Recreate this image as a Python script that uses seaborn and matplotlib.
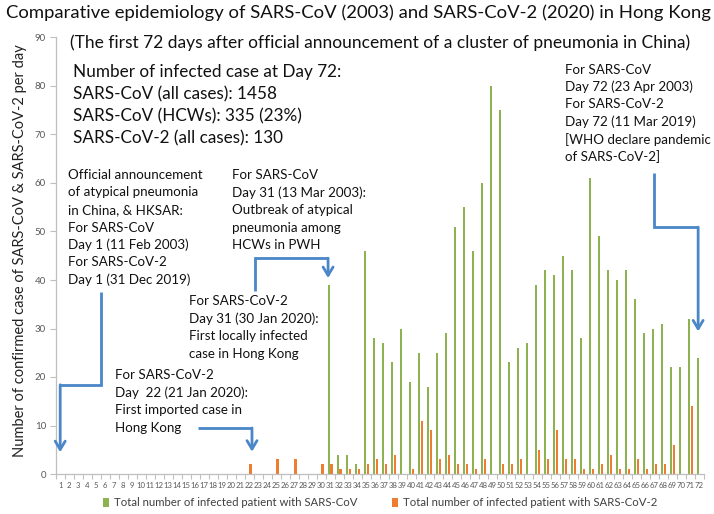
import matplotlib
matplotlib.use("Agg")
import matplotlib.pyplot as plt
import seaborn as sns
import pandas as pd

# ---------------- data ----------------
days = [str(d) for d in range(1, 73)]
sars_cov = [0, 0, 0, 0, 0, 0, 0, 0, 0, 0,
            0, 0, 0, 0, 0, 0, 0, 0, 0, 0,
            0, 0, 0, 0, 0, 0, 0, 0, 0, 0,
            39, 4, 4, 2, 46, 28, 27, 23, 30, 19,
            25, 18, 25, 29, 51, 55, 46, 60, 80, 75,
            23, 26, 27, 39, 42, 41, 45, 42, 28, 61,
            49, 42, 40, 42, 36, 29, 30, 31, 22, 22,
            32, 24]
sars_cov2 = [0, 0, 0, 0, 0, 0, 0, 0, 0, 0,
             0, 0, 0, 0, 0, 0, 0, 0, 0, 0,
             0, 2, 0, 0, 3, 0, 3, 0, 0, 2,
             2, 1, 1, 1, 2, 3, 2, 4, 0, 1,
             11, 9, 3, 4, 2, 2, 1, 3, 0, 2,
             2, 3, 0, 5, 3, 9, 3, 3, 1, 1,
             2, 4, 1, 1, 3, 1, 2, 2, 6, 0,
             14, 0]
series_names = ["Total number of infected patient with SARS-CoV",
                "Total number of infected patient with SARS-CoV-2"]
colors = ["#8db350", "#ed7d31"]
y_ticks = [0, 10, 20, 30, 40, 50, 60, 70, 80, 90]

df = pd.DataFrame({
    "day": days * 2,
    "cases": sars_cov + sars_cov2,
    "series": [series_names[0]] * len(days) + [series_names[1]] * len(days),
})

# ---------------- style ----------------
sns.set_theme(style="white")
plt.rcParams["font.family"] = ["Lato", "DejaVu Sans"]

W, H = 714, 514
fig = plt.figure(figsize=(W / 100, H / 100), dpi=100)
ax = fig.add_axes([55.7 / W, 40 / H, (704 - 55.7) / W, (474 - 37.5) / H])

sns.barplot(data=df, x="day", y="cases", hue="series", order=days,
            hue_order=series_names, palette=colors, width=0.62, gap=0.12,
            saturation=1, ax=ax, linewidth=0, errorbar=None)

ax.set_xlim(-0.5, len(days) - 0.5)
ax.set_ylim(0, 90)
ax.set_yticks(y_ticks)
ax.set_xlabel("")
ax.set_ylabel("")
for s in ["top", "right"]:
    ax.spines[s].set_visible(False)
for s in ["left", "bottom"]:
    ax.spines[s].set_color("#bfbfbf")
    ax.spines[s].set_linewidth(0.9)
ax.tick_params(axis="y", labelsize=7, colors="#595959", length=4, width=0.8,
               direction="out", left=True, pad=3)
ax.tick_params(axis="y", color="#bfbfbf")
ax.tick_params(axis="x", which="major", length=0, labelsize=5.6,
               labelcolor="#595959", pad=6)
ax.set_xticks([i - 0.5 for i in range(len(days) + 1)], minor=True)
ax.tick_params(axis="x", which="minor", length=3.5, color="#bfbfbf", width=0.8,
               direction="out", bottom=True)
ax.grid(False)

# legend
handles, labels = ax.get_legend_handles_labels()
ax.get_legend().remove()
fig.legend(handles, labels, loc="center", bbox_to_anchor=(380 / W, 1 - 503 / H),
           ncol=2, frameon=False, fontsize=8.2, handlelength=0.6, handleheight=0.75,
           handletextpad=0.4, columnspacing=3.0, labelcolor="#404040")

# ---------------- texts ----------------
def fx(x):
    return x / W

def fy(y):
    return 1 - y / H

fig.text(fx(358), fy(13), "Comparative epidemiology of SARS-CoV (2003) and SARS-CoV-2 (2020) in Hong Kong",
         ha="center", va="center", fontsize=13.3, color="#111111")
fig.text(fx(380), fy(43), "(The first 72 days after official announcement of a cluster of pneumonia in China)",
         ha="center", va="center", fontsize=12.5, color="#111111")
fig.text(fx(20), fy(251), "Number of confirmed case of SARS-CoV & SARS-CoV-2 per day",
         rotation=90, ha="center", va="center", fontsize=10.5, color="#222222")


def block(x, y0, dy, lines, size):
    for i, line in enumerate(lines):
        fig.text(fx(x), fy(y0 + i * dy), line, ha="left", va="center",
                 fontsize=size, color="#111111")


block(73, 72, 22.2, ["Number of infected case at Day 72:",
                     "SARS-CoV (all cases): 1458",
                     "SARS-CoV (HCWs): 335 (23%)",
                     "SARS-CoV-2 (all cases): 130"], 12.3)
block(68, 175, 17.5, ["Official announcement", "of atypical pneumonia",
                      "in China, & HKSAR:", "For SARS-CoV", "Day 1 (11 Feb 2003)",
                      "For SARS-CoV-2", "Day 1 (31 Dec 2019)"], 9.6)
block(232, 175, 17.5, ["For SARS-CoV", "Day 31 (13 Mar 2003):",
                       "Outbreak of atypical", "pneumonia among", "HCWs in PWH"], 9.6)
block(189, 301, 17.5, ["For SARS-CoV-2", "Day 31 (30 Jan 2020):",
                       "First locally infected", "case in Hong Kong"], 9.6)
block(115, 375, 17.7, ["For SARS-CoV-2", "Day  22 (21 Jan 2020):",
                       "First imported case in", "Hong Kong"], 9.6)
block(565, 69.5, 17.5, ["For SARS-CoV", "Day 72 (23 Apr 2003)", "For SARS-CoV-2",
                        "Day 72 (11 Mar 2019)", "[WHO declare pandemic",
                        "of SARS-CoV-2]"], 9.6)

# ---------------- arrows (data coordinates) ----------------
arrow_color = "#4a86c8"


def elbow(points):
    xs = [p[0] for p in points[:-1]]
    ys = [p[1] for p in points[:-1]]
    ax.plot(xs, ys, color=arrow_color, lw=2.0, solid_capstyle="butt",
            solid_joinstyle="miter", clip_on=False)
    ax.annotate("", xy=points[-1], xytext=points[-2],
                arrowprops=dict(arrowstyle="->,head_length=0.5,head_width=0.3",
                                color=arrow_color, lw=2.0, shrinkA=0, shrinkB=0),
                annotation_clip=False)


elbow([(4.5, 37.5), (4.5, 18.4), (0.0, 18.4), (0.0, 4.5)])
elbow([(15.3, 9.5), (21.3, 9.5), (21.3, 4.6)])
elbow([(21.6, 37.8), (21.6, 44.5), (29.75, 44.5), (29.75, 40.4)])
elbow([(66.0, 62.0), (66.0, 50.9), (70.85, 50.9), (70.85, 29.4)])

fig.savefig("out.png", dpi=100)
